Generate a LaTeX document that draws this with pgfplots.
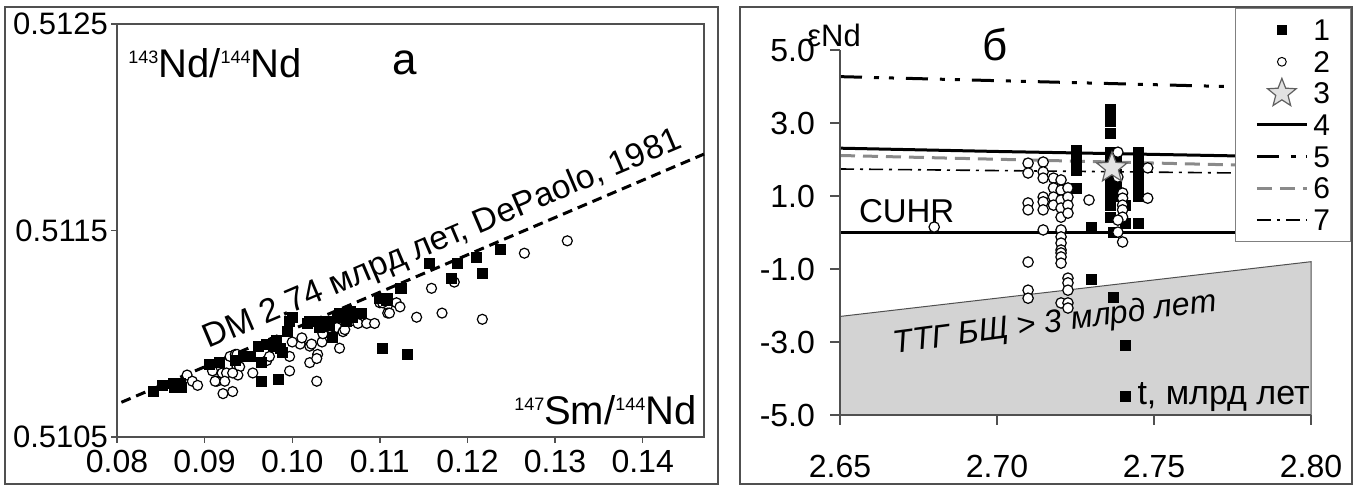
\documentclass[border=0pt]{standalone}
\usepackage{fontspec}
\setmainfont{Liberation Sans}
\usepackage{pgfplots}
\pgfplotsset{compat=1.18}
\usepackage{pgfplotstable}
\definecolor{framec}{HTML}{505050}
\definecolor{ttgfill}{HTML}{D3D3D3}
\definecolor{grayline}{HTML}{8A8A8A}
\definecolor{starfill}{HTML}{E2E2E2}
\definecolor{starline}{HTML}{606060}
\newcommand\fs[1]{\fontsize{#1}{#1}\selectfont}
\newcommand\sups[1]{\raisebox{7pt}{\fs{9}#1}}

\pgfdeclareplotmark{fstar}{%
  \pgfpathmoveto{\pgfpointpolar{90}{\pgfplotmarksize}}%
  \pgfpathlineto{\pgfpointpolar{126}{0.43\pgfplotmarksize}}%
  \pgfpathlineto{\pgfpointpolar{162}{\pgfplotmarksize}}%
  \pgfpathlineto{\pgfpointpolar{198}{0.43\pgfplotmarksize}}%
  \pgfpathlineto{\pgfpointpolar{234}{\pgfplotmarksize}}%
  \pgfpathlineto{\pgfpointpolar{270}{0.43\pgfplotmarksize}}%
  \pgfpathlineto{\pgfpointpolar{306}{\pgfplotmarksize}}%
  \pgfpathlineto{\pgfpointpolar{342}{0.43\pgfplotmarksize}}%
  \pgfpathlineto{\pgfpointpolar{18}{\pgfplotmarksize}}%
  \pgfpathlineto{\pgfpointpolar{54}{0.43\pgfplotmarksize}}%
  \pgfpathclose
  \pgfusepathqfillstroke
}

\pgfplotstableread{
x y
0.0841 0.51072
0.0852 0.51075
0.0864 0.51076
0.0866 0.51074
0.0872 0.51076
0.0874 0.51074
0.0906 0.51085
0.0917 0.51086
0.0935 0.51087
0.0944 0.51089
0.0952 0.51089
0.0961 0.51094
0.0965 0.51086
0.0971 0.51095
0.0978 0.51094
0.0982 0.51097
0.0986 0.51093
0.0989 0.51091
0.0995 0.51101
0.0997 0.51106
0.1000 0.51108
0.1017 0.51105
0.1020 0.51106
0.1028 0.51106
0.1031 0.51103
0.1039 0.51106
0.1043 0.51104
0.1046 0.51098
0.1051 0.51108
0.1054 0.51110
0.1058 0.51109
0.1062 0.51106
0.1066 0.51111
0.1069 0.51108
0.1077 0.51110
0.1079 0.51110
0.1100 0.51117
0.1108 0.51116
0.1109 0.51117
0.1123 0.51122
0.1125 0.51122
0.1157 0.51134
0.1182 0.51127
0.1189 0.51134
0.1210 0.51137
0.1217 0.51129
0.1238 0.51141
0.0965 0.51077
0.0984 0.51078
0.1103 0.51093
0.1131 0.51090
}\leftsq

\pgfplotstableread{
x y
0.0880 0.51080
0.0886 0.51077
0.0892 0.51075
0.0909 0.51082
0.0914 0.51077
0.0921 0.51071
0.0932 0.51072
0.0920 0.51081
0.0925 0.51081
0.0929 0.51089
0.0935 0.51090
0.0937 0.51084
0.0940 0.51084
0.0938 0.51080
0.0912 0.51077
0.0923 0.51077
0.0932 0.51081
0.0937 0.51090
0.0955 0.51081
0.0971 0.51087
0.0974 0.51089
0.0997 0.51089
0.0997 0.51082
0.1009 0.51095
0.1020 0.51094
0.1011 0.51098
0.1000 0.51096
0.1022 0.51095
0.1034 0.51096
0.1035 0.51100
0.1020 0.51086
0.1029 0.51090
0.1028 0.51088
0.1028 0.51077
0.1035 0.51103
0.1043 0.51103
0.1051 0.51103
0.1058 0.51101
0.1054 0.51093
0.1060 0.51102
0.1066 0.51106
0.1075 0.51105
0.1085 0.51105
0.1094 0.51105
0.1100 0.51115
0.1109 0.51114
0.1119 0.51115
0.1123 0.51113
0.1109 0.51110
0.1103 0.51115
0.1111 0.51110
0.1159 0.51122
0.1185 0.51125
0.1142 0.51108
0.1171 0.51110
0.1217 0.51107
0.1265 0.51139
0.1314 0.51145
}\leftci

\pgfplotstableread{
t e
2.7252 2.26
2.7252 2.12
2.7252 1.99
2.7252 1.85
2.7252 1.71
2.7252 1.22
2.7300 0.15
2.7300 -1.28
2.7360 3.36
2.7360 3.20
2.7360 3.05
2.7360 2.72
2.7360 2.20
2.7360 2.05
2.7360 1.90
2.7360 1.75
2.7360 1.60
2.7360 1.45
2.7360 1.30
2.7360 1.15
2.7360 1.00
2.7380 2.05
2.7380 1.60
2.7380 1.30
2.7380 1.00
2.7360 0.75
2.7408 0.75
2.7360 0.40
2.7408 0.26
2.7370 0.00
2.7449 0.26
2.7449 2.20
2.7449 2.05
2.7449 1.90
2.7449 1.75
2.7449 1.60
2.7449 1.45
2.7449 1.30
2.7449 1.15
2.7449 1.00
2.7370 -1.77
2.7408 -3.08
2.7408 -4.50
}\rightsq

\pgfplotstableread{
t e
2.6800 0.15
2.7099 1.90
2.7099 1.63
2.7099 0.81
2.7099 0.62
2.7099 -0.81
2.7099 -1.58
2.7099 -1.80
2.7147 1.93
2.7147 1.66
2.7147 1.49
2.7147 0.97
2.7147 0.84
2.7147 0.62
2.7147 0.07
2.7180 1.49
2.7180 1.22
2.7180 0.97
2.7180 0.75
2.7204 1.44
2.7204 1.16
2.7204 0.89
2.7204 0.67
2.7204 0.42
2.7204 0.07
2.7204 -0.12
2.7204 -0.29
2.7204 -0.48
2.7204 -0.56
2.7204 -0.67
2.7204 -0.84
2.7204 -1.93
2.7226 1.22
2.7226 0.97
2.7226 0.75
2.7226 0.53
2.7226 -1.25
2.7226 -1.38
2.7226 -1.58
2.7226 -1.93
2.7226 -2.07
2.7293 0.89
2.7385 2.20
2.7385 1.52
2.7400 1.08
2.7400 0.94
2.7400 0.75
2.7400 0.62
2.7400 0.42
2.7385 0.34
2.7385 0.01
2.7400 -0.26
2.7480 1.77
2.7480 0.94
}\rightci

\begin{document}
\begin{tikzpicture}
\useasboundingbox (0,0) rectangle (678.5pt,243pt);
\draw[framec, line width=1pt] (2.5pt,1pt) rectangle (359pt,239.5pt);
\draw[framec, line width=1pt] (370pt,1pt) rectangle (676pt,239.5pt);

\begin{axis}[
  at={(58.5pt,24.5pt)}, anchor=south west, scale only axis,
  width=293.5pt, height=206.5pt,
  xmin=0.08, xmax=0.147, ymin=0.5105, ymax=0.5125,
  xtick={0.08,0.09,0.10,0.11,0.12,0.13,0.14},
  xticklabels={0.08,0.09,0.10,0.11,0.12,0.13,0.14},
  ytick={0.5105,0.5115,0.5125},
  yticklabels={0.5105,0.5115,0.5125},
  tick align=outside, xtick pos=bottom, ytick pos=left,
  major tick length=3pt,
  axis line style={framec, line width=0.7pt},
  every tick/.style={framec, line width=0.7pt},
  ticklabel style={font=\fs{16}},
  yticklabel style={font=\fs{15.5}, xshift=2pt},
  clip=false,
]
\addplot[black, line width=1.5pt, dash pattern=on 5pt off 3pt] coordinates {(0.0805,0.510668) (0.147,0.511870)};
\addplot[only marks, mark=*, mark size=2.5pt, mark options={fill=white, draw=black, line width=0.6pt}] table[x=x,y=y] {\leftci};
\addplot[only marks, mark=square*, mark size=2.5pt, mark options={fill=black, draw=black}] table[x=x,y=y] {\leftsq};
\node[rotate=23, font=\fs{16.8}, inner sep=0pt] at (axis cs:0.1172,0.511454) {DM 2.74 млрд лет, DePaolo, 1981};
\node[font=\fs{22}] at (axis cs:0.1128,0.51231) {а};
\node[font=\fs{20}] at (axis cs:0.0912,0.51231) {\sups{143}Nd/\sups{144}Nd};
\node[font=\fs{20}, anchor=east, inner sep=0pt] at (axis cs:0.1462,0.51063) {\sups{147}Sm/\sups{144}Nd};
\end{axis}

\begin{axis}[
  at={(420pt,35.5pt)}, anchor=south west, scale only axis,
  width=235.5pt, height=182.5pt,
  xmin=2.65, xmax=2.80, ymin=-5, ymax=5,
  axis lines=left, axis line style={-, framec, line width=0.7pt},
  axis on top,
  xtick={2.65,2.70,2.75,2.80}, xticklabels={2.65,2.70,2.75,2.80},
  ytick={-5,-3,-1,1,3,5}, yticklabels={-5.0,-3.0,-1.0,1.0,3.0,5.0},
  tick align=outside, major tick length=5pt,
  every tick/.style={framec, line width=0.7pt},
  ticklabel style={font=\fs{16}},
  xticklabel style={yshift=-11.5pt},
  yticklabel style={xshift=-4pt},
  clip=false,
  legend style={at={(0.8386,1.1151)}, anchor=north west, draw=gray, fill=white,
    font=\fs{15}, row sep=0pt, inner xsep=10pt, inner ysep=3pt, column sep=2.5pt,
    nodes={inner sep=0pt, text height=13.2pt, text depth=2.6pt}},
  legend cell align=left,
  legend image code/.code={\draw[mark repeat=2,mark phase=2,#1] plot coordinates {(0pt,0pt) (12.5pt,0pt) (25pt,0pt)};},
]
\addlegendimage{only marks, mark=square*, mark size=2.2pt, black}
\addlegendentry{1}
\addlegendimage{only marks, mark=*, mark size=2.2pt, mark options={fill=white, draw=black, line width=0.5pt}}
\addlegendentry{2}
\addlegendimage{only marks, mark=fstar, mark size=7.5pt, mark options={fill=starfill, draw=starline, line width=0.6pt}}
\addlegendentry{3}
\addlegendimage{black, line width=1.5pt}
\addlegendentry{4}
\addlegendimage{black, line width=1.5pt, dash pattern=on 11pt off 6pt on 2.5pt off 5pt on 2.5pt off 6pt}
\addlegendentry{5}
\addlegendimage{grayline, line width=1.5pt, dash pattern=on 7.5pt off 4pt}
\addlegendentry{6}
\addlegendimage{black, line width=0.8pt, dash pattern=on 7pt off 3pt on 1.5pt off 3pt}
\addlegendentry{7}

\addplot[draw=framec, line width=0.5pt, fill=ttgfill, forget plot] coordinates {(2.65,-5) (2.65,-2.3) (2.80,-0.8) (2.80,-5)} -- cycle;
\addplot[black, line width=1.5pt, forget plot] coordinates {(2.65,0) (2.80,0)};
\addplot[black, line width=1.5pt, forget plot] coordinates {(2.65,2.31) (2.70,2.22) (2.75,2.14) (2.80,2.06)};
\addplot[black, line width=1.5pt, dash pattern=on 11pt off 6pt on 2.5pt off 5pt on 2.5pt off 6pt, forget plot] coordinates {(2.65,4.27) (2.80,3.94)};
\addplot[grayline, line width=1.5pt, dash pattern=on 7.5pt off 4pt, forget plot] coordinates {(2.65,2.11) (2.80,1.80)};
\addplot[black, line width=0.8pt, dash pattern=on 7pt off 3pt on 1.5pt off 3pt, forget plot] coordinates {(2.65,1.74) (2.80,1.61)};
\addplot[only marks, mark=square*, mark size=2.5pt, mark options={fill=black, draw=black}, forget plot] table[x=t,y=e] {\rightsq};
\addplot[only marks, mark=*, mark size=2.6pt, mark options={fill=white, draw=black, line width=0.6pt}, forget plot] table[x=t,y=e] {\rightci};
\addplot[only marks, mark=fstar, mark size=8pt, mark options={fill=starfill, draw=starline, line width=0.6pt}, forget plot] coordinates {(2.7366,1.77)};

\node[font=\fs{22}] at (axis cs:2.6994,5.14) {б};
\node[font=\fs{15.5}] at (axis cs:2.6481,5.41) {εNd};
\node[font=\fs{16.5}, anchor=west] at (axis cs:2.6538,0.59) {CUHR};
\node[font=\fs{16}\itshape, rotate=7.5] at (axis cs:2.7185,-2.5) {ТТГ БЩ > 3 млрд лет};
\node[font=\fs{17}, anchor=east, inner sep=0pt] at (axis cs:2.7997,-4.51) {t, млрд лет};
\end{axis}
\end{tikzpicture}
\end{document}
